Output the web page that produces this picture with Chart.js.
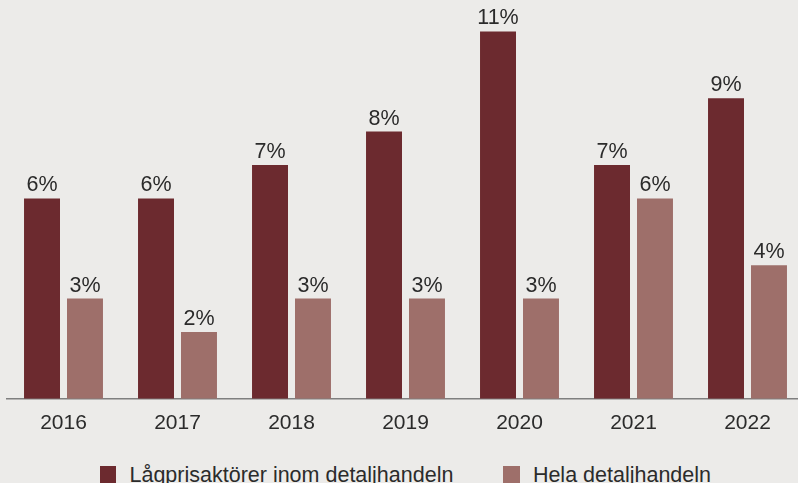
<!DOCTYPE html>
<html>
<head>
<meta charset="utf-8">
<script src="https://cdn.jsdelivr.net/npm/chart.js@4"></script>
<style>
  html, body { margin: 0; padding: 0; background: #ecebe9; overflow: hidden; }
  #wrap { position: absolute; left: 0; top: 0; width: 806px; height: 447px; }
  #legend {
    position: absolute; left: 2.5px; top: 466px; width: 806px;
    display: flex; justify-content: center; align-items: center; gap: 50px;
    font: 21.5px 'Liberation Sans', Arial, sans-serif; color: #2b2b2b;
    line-height: 17px; white-space: nowrap;
  }
  #legend .item { display: flex; align-items: center; }
  #legend .box { width: 16.5px; height: 17px; margin-right: 13px; }
  #legend .item span:last-child { position: relative; top: 1px; }
</style>
</head>
<body>
<div id="wrap"><canvas id="chart"></canvas></div>
<div id="legend"></div>
<script>
const years = ["2016", "2017", "2018", "2019", "2020", "2021", "2022"]
const lowPrice = [6, 6, 7, 8, 11, 7, 9]
const allRetail = [3, 2, 3, 3, 3, 6, 4]
const seriesNames = ["Lågprisaktörer inom detaljhandeln", "Hela detaljhandeln"]
const seriesColors = ["#6c2a2f", "#9e6f6a"]

const FONT = "'Liberation Sans', Arial, sans-serif"
const TEXT = "#2b2b2b"

// percent labels above each bar
const barLabels = {
  id: "barLabels",
  afterDatasetsDraw(chart) {
    const ctx = chart.ctx
    ctx.save()
    ctx.font = "21.5px " + FONT
    ctx.fillStyle = TEXT
    ctx.textAlign = "center"
    ctx.textBaseline = "alphabetic"
    chart.data.datasets.forEach((ds, i) => {
      chart.getDatasetMeta(i).data.forEach((bar, j) => {
        ctx.fillText(ds.data[j] + "%", bar.x, bar.y - 7)
      })
    })
    ctx.restore()
  }
}

const chart = new Chart(document.getElementById("chart"), {
  type: "bar",
  data: {
    labels: years,
    datasets: [
      { label: seriesNames[0], data: lowPrice, backgroundColor: seriesColors[0] },
      { label: seriesNames[1], data: allRetail, backgroundColor: seriesColors[1] }
    ]
  },
  options: {
    responsive: true,
    maintainAspectRatio: false,
    animation: false,
    categoryPercentage: 0.754,
    barPercentage: 0.837,
    layout: { padding: { left: 6.5, right: 1.5, top: 0, bottom: 0 } },
    scales: {
      x: {
        grid: { display: false, drawTicks: false, tickLength: 0 },
        border: { display: true, color: "#7f7f7f", width: 1.5 },
        ticks: { color: TEXT, font: { family: FONT, size: 21 }, padding: 11.5 }
      },
      y: {
        display: false,
        min: 0,
        max: 11.94
      }
    },
    plugins: {
      tooltip: { enabled: false },
      legend: { display: false }
    }
  },
  plugins: [barLabels]
})

// legend row built from the datasets
const legendEl = document.getElementById("legend")
chart.data.datasets.forEach(ds => {
  const item = document.createElement("div")
  item.className = "item"
  const box = document.createElement("span")
  box.className = "box"
  box.style.background = ds.backgroundColor
  const label = document.createElement("span")
  label.textContent = ds.label
  item.append(box, label)
  legendEl.append(item)
})
</script>
</body>
</html>
